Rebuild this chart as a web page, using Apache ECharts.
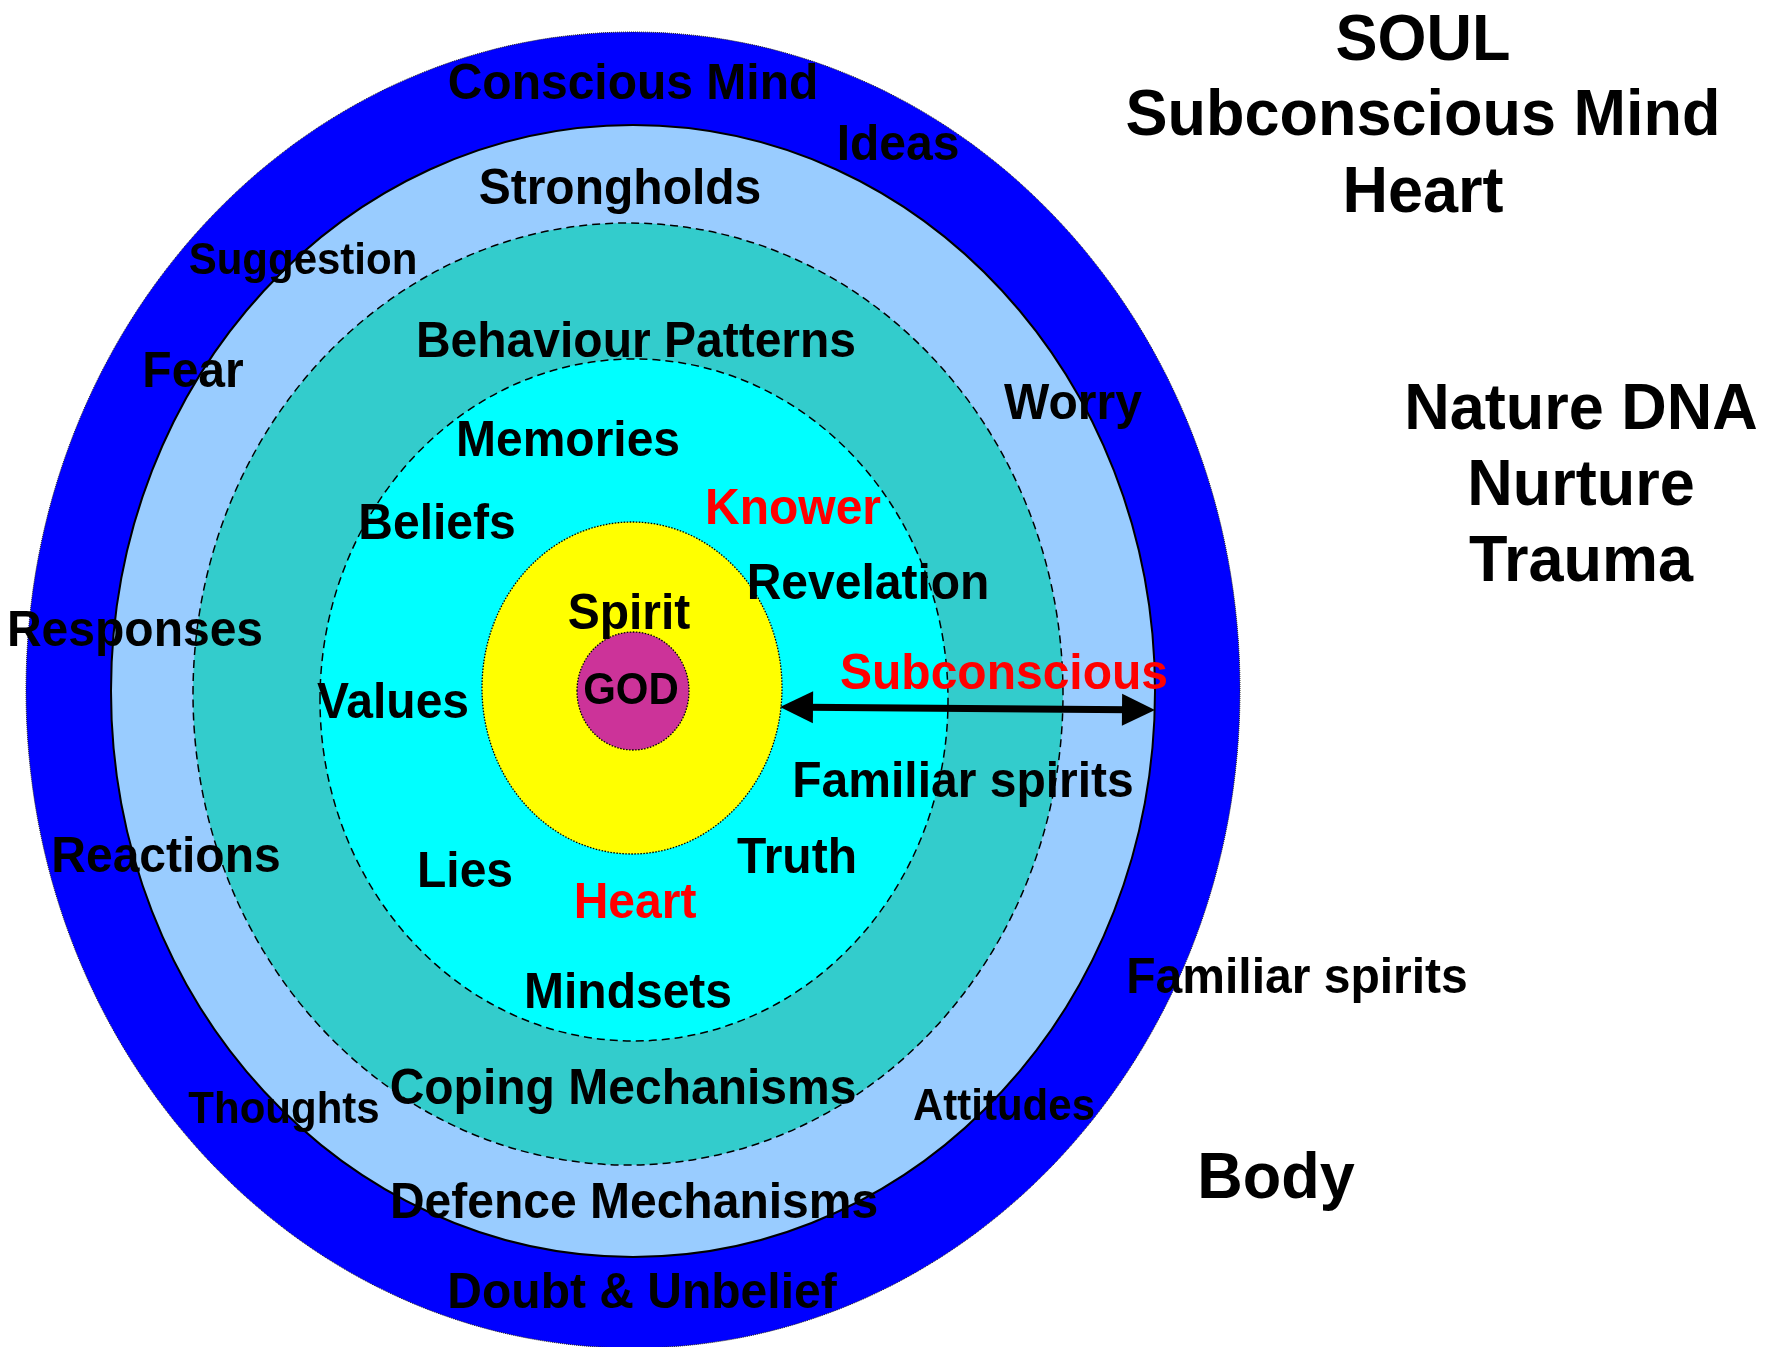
<!DOCTYPE html>
<html>
<head>
<meta charset="utf-8">
<title>Soul diagram</title>
<script src="https://cdn.jsdelivr.net/npm/echarts@6/dist/echarts.min.js"></script>
<style>
  html, body { margin: 0; padding: 0; background: #fff; }
  #chart { width: 1775px; height: 1347px; }
</style>
</head>
<body>
<div id="chart"></div>
<script>
  // rings, outside to inside: centre and radii in picture units
  const ringNames = ['Conscious Mind', 'Strongholds', 'Behaviour Patterns', 'Memories', 'Spirit', 'GOD'];
  const ringCx = [633, 633, 628, 634, 632, 633];
  const ringCy = [690, 691, 694, 700, 688, 691];
  const ringRx = [607, 522, 435, 314, 150, 56];
  const ringRy = [658, 566, 471, 341, 166, 59];

  // labels inside the rings
  const labelText = ['Conscious Mind', 'Ideas', 'Strongholds', 'Behaviour Patterns', 'Worry', 'Fear',
    'Memories', 'Beliefs', 'Revelation', 'Spirit', 'Responses', 'Values', 'Familiar spirits',
    'Reactions', 'Truth', 'Lies', 'Mindsets', 'Coping Mechanisms', 'Defence Mechanisms',
    'Doubt & Unbelief', 'Familiar spirits'];
  const labelX = [633, 898, 620, 636, 1073, 193, 568, 437, 868, 629, 135, 393, 963, 166, 797, 465, 628, 623, 634, 642, 1297];
  const labelY = [85, 146, 190, 343, 405, 373, 442, 525, 585, 615, 632, 704, 783, 858, 859, 873, 994, 1090, 1204, 1294, 979];

  const smallText = ['Suggestion', 'Thoughts', 'Attitudes'];
  const smallX = [303, 284, 1004];
  const smallY = [262, 1111, 1108];

  const redText = ['Knower', 'Subconscious', 'Heart'];
  const redX = [793, 1004, 635];
  const redY = [510, 675, 904];

  const godText = ['GOD'];
  const godX = [631];
  const godY = [692];

  const bigText = ['SOUL', 'Subconscious Mind', 'Heart', 'Nature DNA', 'Nurture', 'Trauma', 'Body'];
  const bigX = [1423, 1423, 1423, 1581, 1581, 1581, 1276];
  const bigY = [42, 117, 194, 411, 487, 563, 1180];

  // double arrow: from yellow ring out to light blue ring
  const arrowFrom = [780, 707];
  const arrowTo = [1155, 710];

  const ringStyles = [
    { fill: '#0000FF', stroke: '#222', lineWidth: 1, lineDash: [1, 1] },
    { fill: '#99CCFF', stroke: '#000', lineWidth: 2 },
    { fill: '#33CCCC', stroke: '#000', lineWidth: 1.5, lineDash: [8, 5] },
    { fill: '#00FFFF', stroke: '#000', lineWidth: 1.5, lineDash: [8, 5] },
    { fill: '#FFFF00', stroke: '#000', lineWidth: 1.3, lineDash: [1.5, 1.5] },
    { fill: '#CC3399', stroke: '#000', lineWidth: 1.3, lineDash: [1.5, 1.5] }
  ];

  const fontFamily = '"Liberation Sans", Arial, Helvetica, sans-serif';

  function textSeries(texts, xs, ys, size, color, z) {
    return {
      type: 'custom',
      z: z,
      silent: true,
      data: xs.map((x, i) => [x, ys[i]]),
      encode: { x: 0, y: 1 },
      renderItem: function (params, api) {
        const p = api.coord([api.value(0), api.value(1)]);
        return {
          type: 'text',
          x: p[0],
          y: p[1],
          scaleY: 1.04,
          style: {
            text: texts[params.dataIndex],
            fill: color,
            fontSize: size,
            fontWeight: 'bold',
            fontFamily: fontFamily,
            align: 'center',
            verticalAlign: 'middle'
          }
        };
      }
    };
  }

  let myChart = echarts.init(document.getElementById('chart'));

  myChart.setOption({
    animation: false,
    backgroundColor: '#fff',
    grid: { left: 0, right: 0, top: 0, bottom: 0 },
    xAxis: { type: 'value', min: 0, max: 1775, show: false },
    yAxis: { type: 'value', min: 0, max: 1347, inverse: true, show: false },
    series: [
      {
        name: 'rings',
        type: 'custom',
        z: 1,
        silent: true,
        data: ringNames.map((n, i) => ({ name: n, value: [ringCx[i], ringCy[i], ringRx[i], ringRy[i]] })),
        encode: { x: 0, y: 1 },
        renderItem: function (params, api) {
          const c = api.coord([api.value(0), api.value(1)]);
          const s = api.size([api.value(2), api.value(3)]);
          return {
            type: 'ellipse',
            shape: { cx: c[0], cy: c[1], rx: Math.abs(s[0]), ry: Math.abs(s[1]) },
            style: ringStyles[params.dataIndex]
          };
        }
      },
      {
        name: 'arrow',
        type: 'custom',
        z: 2,
        silent: true,
        data: [[arrowFrom[0], arrowFrom[1], arrowTo[0], arrowTo[1]]],
        encode: { x: [0, 2], y: [1, 3] },
        renderItem: function (params, api) {
          const a = api.coord([api.value(0), api.value(1)]);
          const b = api.coord([api.value(2), api.value(3)]);
          const len = Math.hypot(b[0] - a[0], b[1] - a[1]);
          const ux = (b[0] - a[0]) / len, uy = (b[1] - a[1]) / len;
          const nx = -uy, ny = ux;
          const hl = 33, hw = 16;
          function head(tip, dir) {
            const bx = tip[0] + dir * ux * hl, by = tip[1] + dir * uy * hl;
            return [tip, [bx + nx * hw, by + ny * hw], [bx - nx * hw, by - ny * hw]];
          }
          return {
            type: 'group',
            children: [
              {
                type: 'line',
                shape: { x1: a[0] + ux * hl * 0.8, y1: a[1] + uy * hl * 0.8, x2: b[0] - ux * hl * 0.8, y2: b[1] - uy * hl * 0.8 },
                style: { stroke: '#000', lineWidth: 7 }
              },
              { type: 'polygon', shape: { points: head(a, 1) }, style: { fill: '#000' } },
              { type: 'polygon', shape: { points: head(b, -1) }, style: { fill: '#000' } }
            ]
          };
        }
      },
      textSeries(labelText, labelX, labelY, 48, '#000', 3),
      textSeries(smallText, smallX, smallY, 42, '#000', 3),
      textSeries(redText, redX, redY, 48, '#FF0000', 3),
      textSeries(godText, godX, godY, 42, '#000', 3),
      textSeries(bigText, bigX, bigY, 63, '#000', 3)
    ]
  });
</script>
</body>
</html>
